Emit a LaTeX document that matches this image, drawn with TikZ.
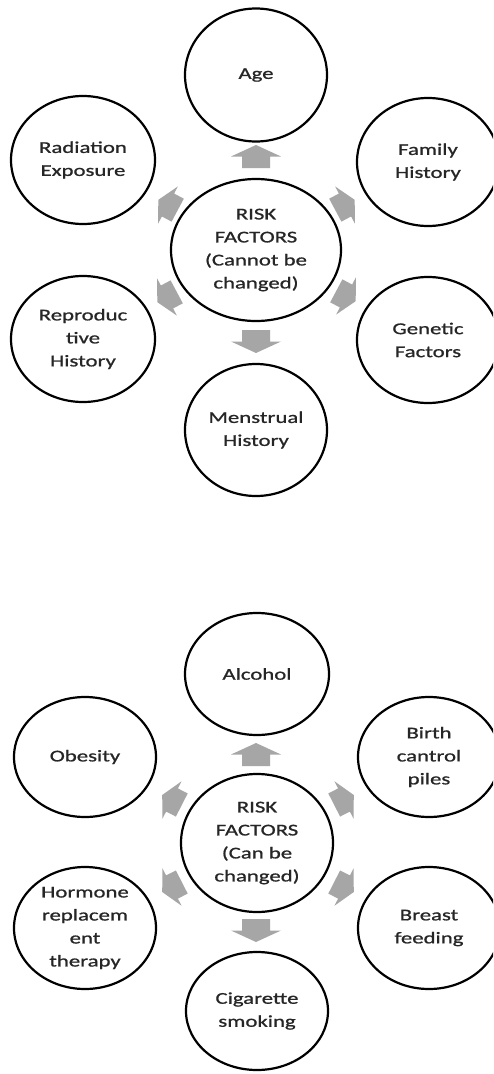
\documentclass[tikz,border=0pt]{standalone}
\usepackage{fontspec}
\setmainfont[FakeStretch=1.38,FakeBold=0.9]{Carlito}
\usetikzlibrary{shapes.geometric}
\definecolor{arrowgray}{HTML}{A6A6A6}
\definecolor{txtgray}{HTML}{262626}
\tikzset{
  bubble/.style={ellipse, draw=black, line width=2.2pt, fill=white, inner sep=0pt,
    align=center, text=txtgray, font=\fontsize{16.5}{23}\selectfont},
  vertarrow/.pic={\fill[arrowgray] (-12,-14) -- (-0.5,-14) -- (-0.5,-25) -- (11,0) -- (-0.5,25) -- (-0.5,14) -- (-12,14) -- cycle;},
  diagarrow/.pic={\fill[arrowgray] (-11,-13) -- (0,-13) -- (0,-21) -- (11,0) -- (0,21) -- (0,13) -- (-11,13) -- cycle;}
}
\begin{document}
\begin{tikzpicture}[x=1pt,y=-1pt]
\useasboundingbox[fill=white] (0,0) rectangle (493,1074);
\clip (0,0) rectangle (493,1074);

% ---------- top diagram ----------
\pic[rotate=90] (upA) at (256,156) {vertarrow};
\pic[rotate=-90] (dnA) at (256,342) {vertarrow};
\pic[rotate=152] (ulA) at (168,205) {diagarrow};
\pic[rotate=28] (urA) at (345,205) {diagarrow};
\pic[rotate=208] (llA) at (167,297) {diagarrow};
\pic[rotate=-28] (lrA) at (346,296) {diagarrow};

\node[bubble, minimum width=170, minimum height=142] (c1) at (256,250) {RISK\\FACTORS\\(Cannot be\\changed)};
\node[bubble, minimum width=142, minimum height=133] (age) at (256,75) {Age};
\node[bubble, minimum width=144, minimum height=128] (rad) at (83,160) {Radiation\\Exposure};
\node[bubble, minimum width=142, minimum height=128] (fam) at (428,162) {Family\\History};
\node[bubble, minimum width=144, minimum height=126] (rep) at (83,339) {Reproduc\\tive\\History};
\node[bubble, minimum width=142, minimum height=126] (gen) at (428,340) {Genetic\\Factors};
\node[bubble, minimum width=142, minimum height=132] (men) at (256,430) {Menstrual\\History};

% ---------- bottom diagram ----------
\pic[rotate=90] (upB) at (256,754) {vertarrow};
\pic[rotate=-90] (dnB) at (256,931) {vertarrow};
\pic[rotate=153] (ulB) at (172,800) {diagarrow};
\pic[rotate=27] (urB) at (344,800) {diagarrow};
\pic[rotate=207] (llB) at (172,887) {diagarrow};
\pic[rotate=-27] (lrB) at (344,887) {diagarrow};

\node[bubble, minimum width=152, minimum height=138] (c2) at (257,843) {RISK\\FACTORS\\(Can be\\changed)};
\node[bubble, minimum width=144, minimum height=122] (alc) at (257,674) {Alcohol};
\node[bubble, minimum width=142, minimum height=120] (obe) at (85,757) {Obesity};
\node[bubble, minimum width=142, minimum height=120] (bir) at (429,757) {Birth\\cantrol\\piles};
\node[bubble, minimum width=142, minimum height=122] (hor) at (85,928) {Hormone\\replacem\\ent\\therapy};
\node[bubble, minimum width=142, minimum height=122] (bre) at (429,928) {Breast\\feeding};
\node[bubble, minimum width=142, minimum height=118] (cig) at (257,1011) {Cigarette\\smoking};
\end{tikzpicture}
\end{document}
